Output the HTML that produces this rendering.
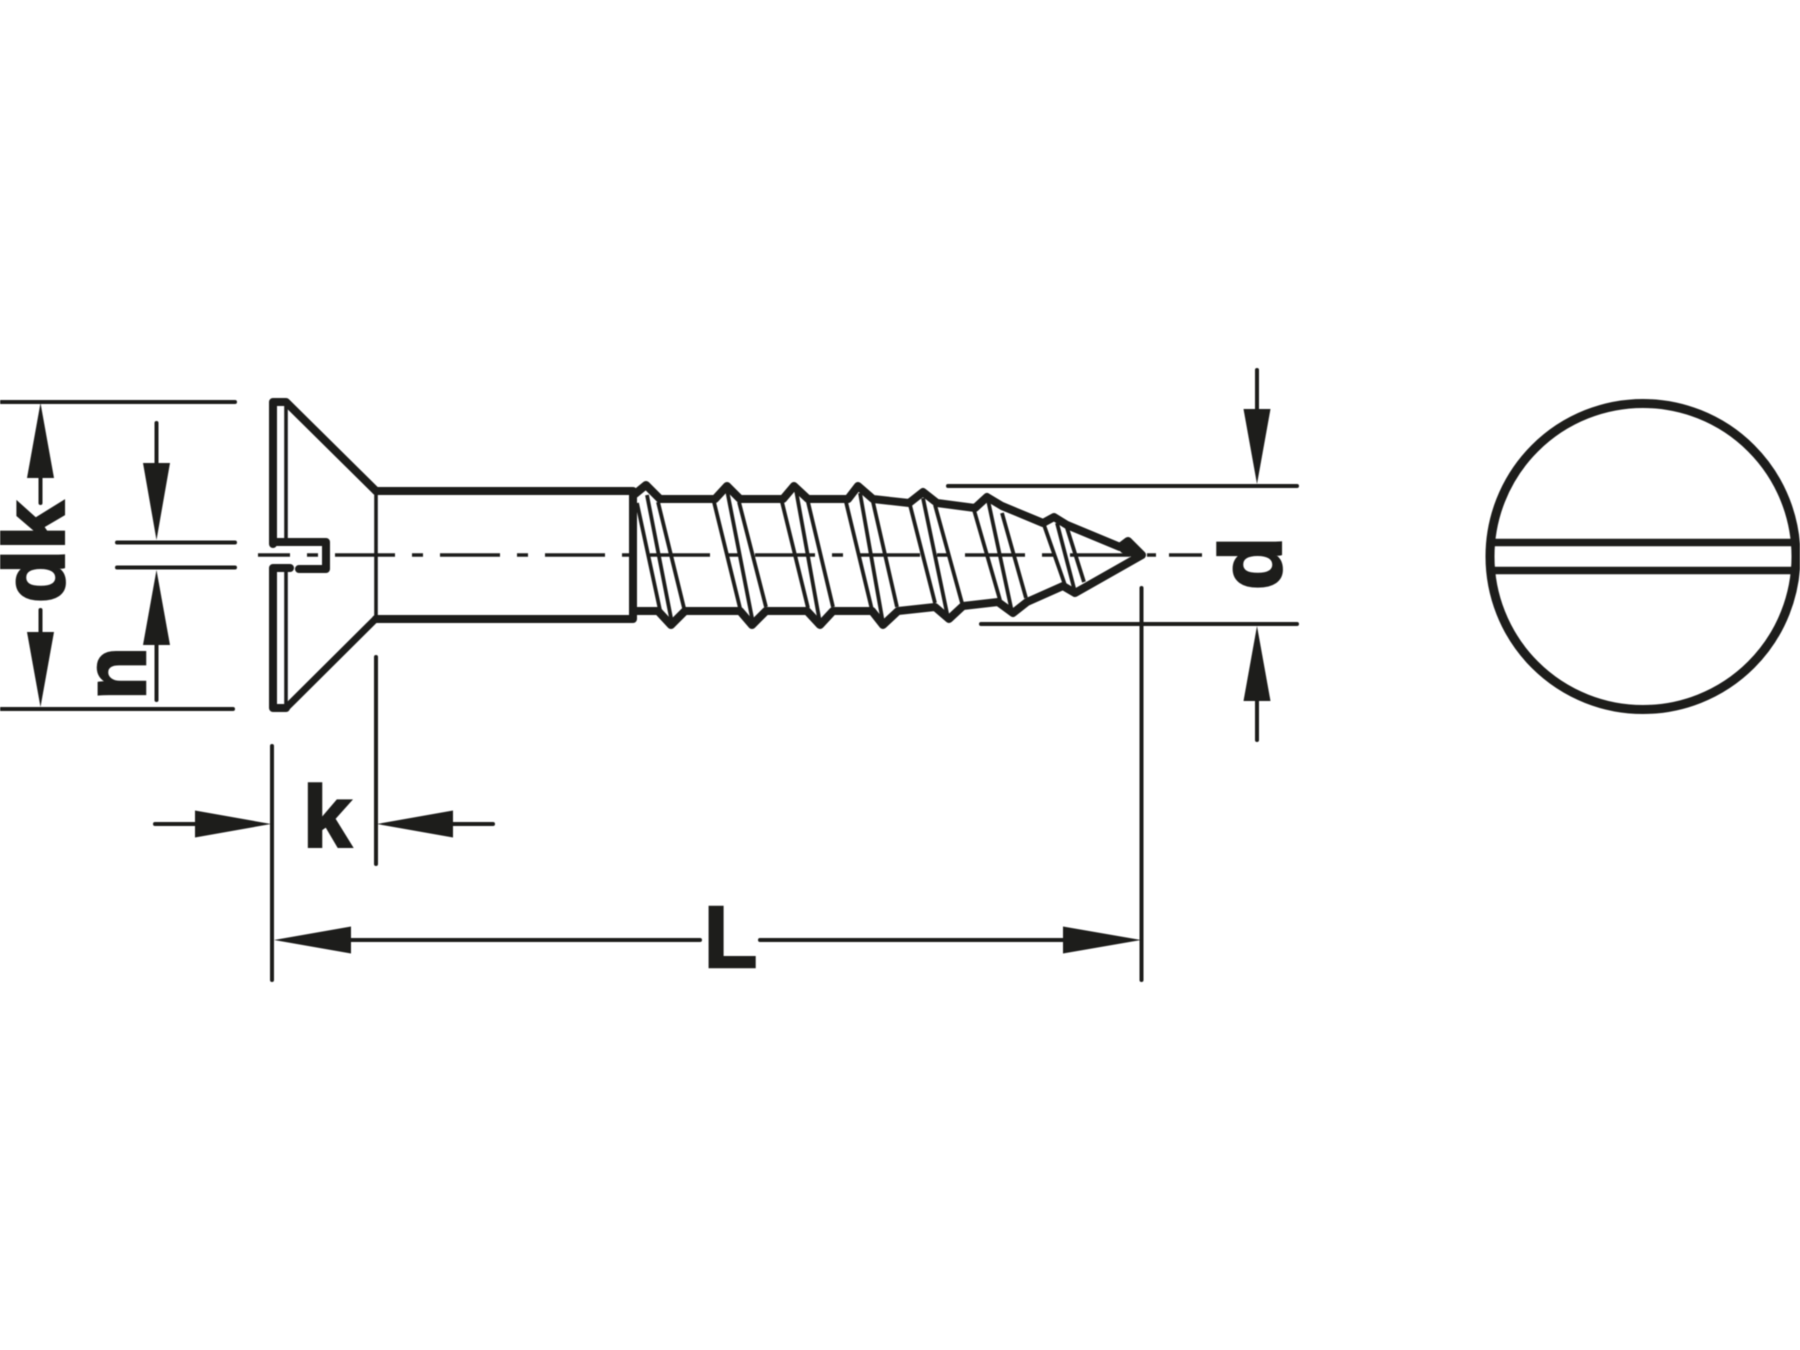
<!DOCTYPE html>
<html><head><meta charset="utf-8"><style>
html,body{margin:0;padding:0;background:#fff}
svg{display:block;filter:blur(0.5px)}
text{font-family:"Liberation Sans",sans-serif;font-weight:bold;font-size:87px;fill:#1d1d1b;stroke:#1d1d1b;stroke-width:2.5px}
</style></head><body>
<svg width="1800" height="1350" viewBox="0 0 1800 1350" xmlns="http://www.w3.org/2000/svg">
<rect width="1800" height="1350" fill="#fff"/>
<g fill="none" stroke="#1d1d1b" stroke-linecap="round" stroke-linejoin="round">
<!-- center line -->
<path stroke-width="3.4" stroke-linecap="butt" d="M258 555H290M307 555H318M335 555H395M412 555H423M440 555H500M517 555H528M545 555H605M622 555H633M650 555H710M727 555H738M755 555H815M832 555H843M860 555H920M937 555H948M965 555H1025M1042 555H1053M1070 555H1130M1147 555H1156M1169 555H1202"/>
<!-- dimension lines -->
<path stroke-width="4" d="M1 402H235M1 709H233M117 542.5H235M117 567.5H235M948 486H1297M981 624H1297M1141.5 588V980M272 746V980M376 657V864"/>
<path stroke-width="4" d="M40.5 478V503M40.5 610V632M156.5 423V463M156.5 645V700M1257 370V410M1257 700V740M155 824H195M453 824H493M351 940H700M760 940H1063"/>
<!-- head -->
<path stroke-width="8" d="M273 544V402H286L376 491M273 542H326V569H299M273 708V568H290M273 708H286"/>
<path stroke-width="7" d="M286 708L376 618.5"/>
<path stroke-width="3.6" d="M286 403V544M286 570V706M376 491V619"/>
<!-- shank -->
<path stroke-width="8" d="M376 491H633M376 619H633M633 491V619"/>
<!-- outline of thread -->
<path stroke-width="8" d="M635 494L646 485L660 499H715L727 486L740 499H783L794 486L808 499H848L858 486L873 499L909 503L923 492L937 503L975 508L987 497L1002 506L1043 523L1054 517L1067 525L1120 547L1128 541L1142 555L1075 593L1063 586L1027 602L1013 613L998 602L963 606L949 619L935 607L898 611L883 625L872 611H833L820 625L807 611H766L752 625L740 611H685L671 625L658 611H635"/>
<path stroke-width="9" d="M1124 549L1139 555"/>
<!-- thread flanks -->
<path stroke-width="3.8" stroke-linecap="butt" d="M637 503L660 610M647 495L672 623M658 502L684 608M714 502L740 608M727 490L753 623M739 502L766 607M782 502L808 608M796 490L820 623M808 502L833 607M846 502L872 610M860 493L883 623M873 502L897 607M910 505L935 603M923 498L948 618M935 505L962 603M974 510L1000 600M988 500L1012 612M1002 513L1026 598M1044 525L1065 585M1057 523L1075 592M1067 528L1084 582"/>
<!-- end view -->
<circle cx="1643" cy="556.5" r="153" stroke-width="9"/>
<path stroke-width="7.5" stroke-linecap="butt" d="M1490 542.5H1796M1490 570.5H1796"/>
</g>
<g fill="#1d1d1b">
<!-- arrowheads -->
<polygon points="40.5,403 27,478 54,478"/>
<polygon points="40.5,707 27,632 54,632"/>
<polygon points="156.5,540 143,463 170,463"/>
<polygon points="156.5,570 143,645 170,645"/>
<polygon points="1257,484 1243.5,409 1270.5,409"/>
<polygon points="1257,626 1243.5,701 1270.5,701"/>
<polygon points="271,824 195,810.5 195,837.5"/>
<polygon points="377,824 453,810.5 453,837.5"/>
<polygon points="274,940 351,926.5 351,953.5"/>
<polygon points="1141,940 1063,926.5 1063,953.5"/>
</g>
<text transform="translate(64 603) rotate(-90)">dk</text>
<text transform="translate(145 700) rotate(-90)">n</text>
<text transform="translate(1281 590) rotate(-90)">d</text>
<text x="303" y="847">k</text>
<text x="704" y="967">L</text>
</svg>
</body></html>
